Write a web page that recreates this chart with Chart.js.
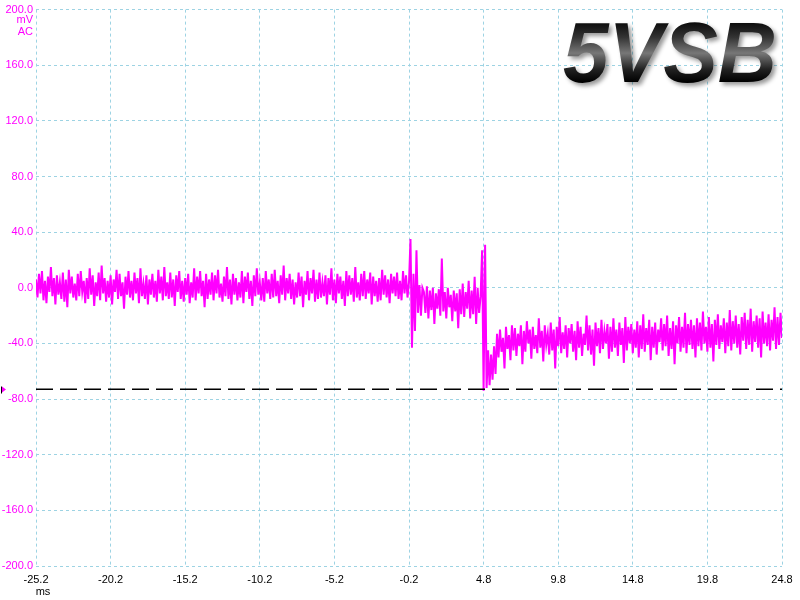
<!DOCTYPE html>
<html>
<head>
<meta charset="utf-8">
<script src="https://cdn.jsdelivr.net/npm/chart.js@4/dist/chart.umd.min.js"></script>
<style>
  body { margin: 0; background: #fff; }
  #wrap { width: 800px; height: 600px; }
</style>
</head>
<body>
<div id="wrap"><canvas id="scope"></canvas></div>
<script>
// sample timing (ms)
const tStart = -25.2;
const tStep = 0.1;

// trace before the event, -25.2 .. -0.3 ms (mV)
const traceBefore = [
  6,-7,10,-4,12,-9,5,-11,8,-3,
  15,-6,7,-12,9,-5,4,-8,11,-10,
  6,-14,13,-4,8,-7,3,-9,10,-6,
  12,-3,5,-11,7,-8,14,-5,9,-13,
  4,-6,11,-9,16,-4,7,-10,5,-7,
  9,-12,6,-3,13,-8,10,-6,4,-15,
  8,-5,12,-7,5,-9,11,-4,7,-11,
  14,-6,3,-8,9,-12,6,-5,10,-7,
  5,-10,13,-4,8,-9,15,-6,4,-8,
  11,-7,6,-13,9,-3,12,-8,5,-10,
  7,-5,10,-11,4,-7,14,-9,8,-4,
  12,-6,5,-14,10,-8,6,-5,11,-9,
  9,-4,13,-7,3,-10,8,-6,15,-8,
  6,-12,10,-5,7,-9,4,-7,12,-11,
  8,-3,11,-8,5,-13,9,-6,14,-5,
  4,-9,7,-10,12,-4,6,-8,10,-7,
  13,-6,5,-11,9,-5,16,-9,7,-4,
  10,-8,6,-12,4,-7,11,-6,8,-14,
  5,-5,12,-9,7,-4,13,-10,6,-8,
  11,-7,4,-6,9,-12,7,-5,14,-9,
  6,-11,10,-4,8,-8,5,-13,12,-6,
  9,-5,7,-10,15,-7,4,-9,10,-6,
  12,-8,6,-4,11,-12,8,-6,5,-10,
  7,-9,13,-5,9,-7,6,-11,10,-4,
  8,-6,11,-8,5,-9,12,-4,9,-7
];

// trace during the first step, -0.2 .. 4.7 ms (mV)
const traceMiddle = [
  4,35,-43,10,-31,27,-18,2,-20,0,
  -3,-18,1,-22,-2,-16,0,-26,-4,-15,
  -1,-20,21,-17,-3,-22,0,-14,-5,-24,
  -2,-17,-4,-29,-1,-19,3,-21,-3,-15,
  5,-22,-2,-19,8,-26,0,-18,-6,27
];

// trace after the drop, 4.8 .. 24.8 ms (mV)
const traceAfter = [
  -74,31,-72,-45,-70,-48,-66,-42,-62,-33,
  -50,-30,-46,-36,-58,-28,-44,-34,-52,-27,
  -45,-29,-49,-33,-42,-27,-55,-31,-46,-24,
  -40,-30,-51,-28,-44,-34,-47,-22,-43,-31,
  -53,-27,-41,-33,-48,-25,-45,-30,-58,-28,
  -42,-21,-47,-32,-44,-27,-50,-29,-40,-26,
  -46,-31,-52,-24,-43,-28,-49,-33,-41,-20,
  -45,-27,-48,-30,-56,-25,-42,-29,-47,-23,
  -44,-31,-40,-26,-51,-28,-46,-22,-43,-30,
  -49,-25,-41,-29,-54,-21,-45,-28,-40,-26,
  -47,-30,-43,-24,-50,-27,-44,-19,-46,-29,
  -41,-23,-52,-28,-43,-25,-48,-30,-39,-22,
  -45,-26,-42,-20,-49,-29,-44,-24,-55,-27,
  -40,-21,-46,-28,-43,-18,-47,-26,-41,-23,
  -44,-27,-50,-22,-42,-25,-45,-17,-40,-28,
  -46,-21,-43,-26,-53,-23,-41,-19,-44,-27,
  -39,-22,-47,-25,-42,-16,-45,-24,-40,-20,
  -43,-26,-48,-21,-38,-18,-44,-23,-41,-15,
  -46,-24,-39,-20,-43,-22,-50,-17,-40,-25,
  -42,-19,-45,-23,-38,-14,-44,-21,-41,-18,
  -36
];

const triggerLevel = -73;
const xTicks = [-25.2, -20.2, -15.2, -10.2, -5.2, -0.2, 4.8, 9.8, 14.8, 19.8, 24.8];
const yTicks = [-200, -160, -120, -80, -40, 0, 40, 80, 120, 160, 200];

const trace = traceBefore.concat(traceMiddle, traceAfter)
  .map((v, i) => ({ x: tStart + i * tStep, y: v }));

const labelFont = { family: 'Liberation Sans, Arial, sans-serif', size: 11 };

// extra texts: units, trigger marker, big title
const extras = {
  id: 'extras',
  afterDraw(chart) {
    const ctx = chart.ctx;
    const y = chart.scales.y;
    ctx.save();
    ctx.font = '11px Liberation Sans, Arial, sans-serif';
    ctx.fillStyle = '#ff00ff';
    ctx.textAlign = 'right';
    ctx.textBaseline = 'middle';
    ctx.fillText('mV', 33, 20);
    ctx.fillText('AC', 33, 32);
    ctx.fillStyle = '#000';
    ctx.textAlign = 'center';
    ctx.fillText('ms', 43, 592);

    // trigger marker on the left edge
    const ty = Math.round(y.getPixelForValue(triggerLevel)) + 0.5;
    ctx.fillStyle = '#ff00ff';
    ctx.beginPath();
    ctx.moveTo(2, ty - 3);
    ctx.lineTo(6, ty);
    ctx.lineTo(2, ty + 3);
    ctx.closePath();
    ctx.fill();
    ctx.fillStyle = '#000';
    ctx.fillRect(1, ty - 3, 1, 7);

    // 5VSB title
    ctx.font = 'italic bold 86px Liberation Sans, Arial, sans-serif';
    ctx.textAlign = 'left';
    ctx.textBaseline = 'alphabetic';
    const w = ctx.measureText('5VSB').width;
    ctx.translate(563, 82);
    ctx.scale(214 / w, 1);
    const g = ctx.createLinearGradient(0, -64, 0, 0);
    g.addColorStop(0, '#000');
    g.addColorStop(0.3, '#333');
    g.addColorStop(0.55, '#777');
    g.addColorStop(0.8, '#222');
    g.addColorStop(1, '#000');
    ctx.shadowColor = 'rgba(0,0,0,0.4)';
    ctx.shadowBlur = 4;
    ctx.shadowOffsetX = 3;
    ctx.shadowOffsetY = 3;
    ctx.fillStyle = g;
    ctx.fillText('5VSB', 0, 0);
    ctx.restore();
  }
};

new Chart(document.getElementById('scope'), {
  type: 'line',
  data: {
    datasets: [
      {
        label: 'trigger',
        data: [{ x: xTicks[0], y: triggerLevel }, { x: xTicks[xTicks.length - 1], y: triggerLevel }],
        borderColor: '#000',
        borderWidth: 1.5,
        borderDash: [17, 7],
        pointRadius: 0
      },
      {
        label: '5VSB',
        data: trace,
        borderColor: '#ff00ff',
        borderWidth: 2,
        pointRadius: 0,
        tension: 0
      }
    ]
  },
  options: {
    responsive: true,
    maintainAspectRatio: false,
    animation: false,
    layout: { padding: { top: 6, right: 18, left: 0, bottom: 0 } },
    plugins: { legend: { display: false }, tooltip: { enabled: false } },
    scales: {
      x: {
        type: 'linear',
        min: xTicks[0],
        max: xTicks[xTicks.length - 1],
        afterBuildTicks: s => { s.ticks = xTicks.map(v => ({ value: v })); },
        afterFit: s => { s.height = 34; },
        ticks: {
          callback: v => v.toFixed(1),
          color: '#000',
          font: labelFont,
          maxRotation: 0,
          autoSkip: false,
          padding: 7
        },
        grid: { color: '#9dd3e3', drawTicks: false },
        border: { display: false, dash: [3, 3] }
      },
      y: {
        min: yTicks[0],
        max: yTicks[yTicks.length - 1],
        afterBuildTicks: s => { s.ticks = yTicks.map(v => ({ value: v })); },
        afterFit: s => { s.width = 36; },
        ticks: {
          callback: v => v.toFixed(1),
          color: '#ff00ff',
          font: labelFont,
          padding: 3
        },
        grid: { color: '#9dd3e3', drawTicks: false },
        border: { display: false, dash: [3, 3] }
      }
    }
  },
  plugins: [extras]
});
</script>
</body>
</html>
